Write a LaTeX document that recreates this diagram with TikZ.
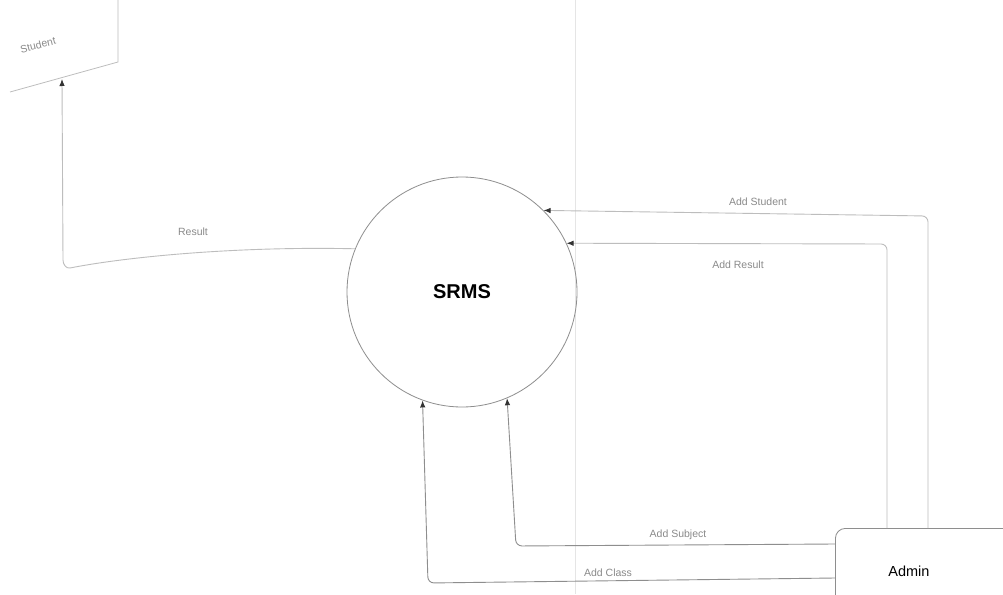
\documentclass[tikz,border=0pt]{standalone}
\usepackage{fontspec}
\setmainfont{Liberation Sans}
\usetikzlibrary{arrows.meta}
\definecolor{lineA}{HTML}{8E8E8E}
\definecolor{lineB}{HTML}{BDBDBD}
\definecolor{labelc}{HTML}{8A8A8A}
\definecolor{tipc}{HTML}{333333}
\tikzset{
  flow/.style={draw=lineA, line width=0.9pt, rounded corners=6pt, -{Latex[length=7pt,width=5.5pt,color=tipc]}},
  flowlight/.style={flow, draw=lineB},
  lbl/.style={text=labelc, font=\fontsize{10.5}{12}\selectfont, inner sep=1pt},
  proc/.style={circle, draw=lineA, line width=0.8pt, minimum size=230pt, font=\bfseries\fontsize{20}{24}\selectfont},
  ent/.style={draw=lineA, line width=0.8pt, rounded corners=10pt, minimum width=196pt, minimum height=80pt, font=\fontsize{14.5}{16}\selectfont, text=black}
}
\begin{document}
\begin{tikzpicture}[x=1pt,y=-1pt]
\useasboundingbox (0,0) rectangle (1003,594);
\clip (0,0) rectangle (1003,594);
\fill[white] (0,0) rectangle (1003,594);
% faint page line
\draw[draw=black!10, line width=0.6pt] (575,0) -- (575,594);
% Student entity (photographed at an angle)
\coordinate (stbr) at (118,62);
\draw[draw=lineB, line width=0.8pt] (118,0) -- (stbr) -- (10,92);
\node[text=labelc, font=\fontsize{10.5}{12}\selectfont, rotate=14] (student) at (38,45) {Student};
\coordinate (stin) at (62,79);
% SRMS process
\node[proc] (srms) at (462,292) {SRMS};
% Admin entity
\node[ent, anchor=north west, text width=180pt, align=left] (admin) at (835,528) {\hspace{45pt}\raisebox{-16pt}{Admin}};
% helper coordinates
\coordinate (xs) at (928,0);
\coordinate (xr) at (887,0);
% Result
\draw[flowlight, rounded corners=0pt] (srms.158) .. controls (230,246) and (120,258) .. (70,268)
  to[out=190,in=-90] (63,260) -- (stin);
\node[lbl] (lres) at (193,232) {Result};
% Add Student
\draw[flowlight] (admin.north -| xs) -- (928,216) -- (srms.45);
\node[lbl] (lstu) at (758,202) {Add Student};
% Add Result
\draw[flowlight] (admin.north -| xr) -- (887,244) -- (srms.25);
\node[lbl] (lres2) at (738,265) {Add Result};
% Add Subject
\draw[flow] (admin.north west |- 0,544) -- (516,546) -- (srms.-67);
\node[lbl] (lsub) at (678,535) {Add Subject};
% Add Class
\draw[flow] (admin.north west |- 0,578) -- (428,583) -- (srms.-110);
\node[lbl] (lcls) at (608,573) {Add Class};
\end{tikzpicture}
\end{document}
